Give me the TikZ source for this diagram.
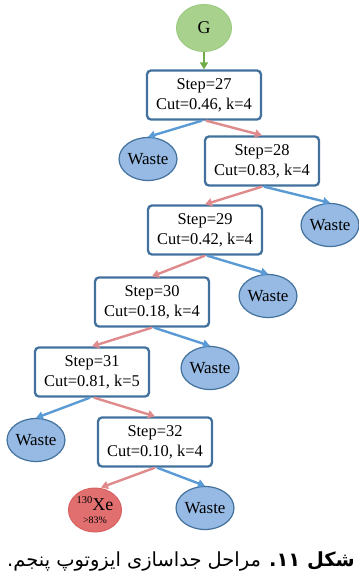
\documentclass[tikz,border=0pt]{standalone}
\usepackage{fontspec}
\setmainfont{Liberation Serif}
\newfontfamily\arabicfont[Script=Arabic]{DejaVu Sans}
\TeXXeTstate=1
\usetikzlibrary{shapes.geometric,arrows.meta}
\definecolor{boxblue}{HTML}{41719C}
\definecolor{wastefill}{HTML}{96BAE4}
\definecolor{arrblue}{HTML}{5B9BD5}
\definecolor{arrred}{HTML}{DF8A8C}
\definecolor{gfill}{HTML}{A9D18E}
\definecolor{gborder}{HTML}{9CCB80}
\definecolor{garrow}{HTML}{70AD47}
\definecolor{xefill}{HTML}{E26F6F}
\definecolor{xeborder}{HTML}{D96060}
\tikzset{
  stepbox/.style={rectangle, rounded corners=4bp, draw=boxblue, line width=2.3bp, fill=white,
    minimum width=114bp, minimum height=49bp, align=center, inner sep=1bp,
    font=\fontsize{16.5}{20}\selectfont},
  waste/.style={ellipse, draw=boxblue, line width=1.2bp, fill=wastefill,
    minimum width=51bp, minimum height=43bp, inner sep=0pt,
    font=\fontsize{17}{18}\selectfont},
  bluearr/.style={draw=arrblue, line width=2.4bp, -{Triangle[length=7bp,width=8bp]}},
  redarr/.style={draw=arrred, line width=2.4bp, -{Triangle[length=7bp,width=8bp]}},
}
\begin{document}
\begin{tikzpicture}[x=1bp,y=-1bp]
\useasboundingbox (0,0) rectangle (358,577);
\node[ellipse, draw=gborder, line width=1bp, fill=gfill, minimum width=55bp, minimum height=47bp, inner sep=0pt, font=\fontsize{18}{19}\selectfont] (g) at (204,28) {G};
\node[stepbox] (s27) at (204,95) {Step=27\\Cut=0.46,\ k=4};
\node[waste] (w27) at (148,159) {Waste};
\node[stepbox] (s28) at (262,161) {Step=28\\Cut=0.83,\ k=4};
\node[waste] (w28) at (330,225) {Waste};
\node[stepbox] (s29) at (205,230) {Step=29\\Cut=0.42,\ k=4};
\node[waste] (w29) at (268,296) {Waste};
\node[stepbox] (s30) at (152,302) {Step=30\\Cut=0.18,\ k=4};
\node[waste] (w30) at (210,368) {Waste};
\node[stepbox] (s31) at (92,372) {Step=31\\Cut=0.81,\ k=5};
\node[waste] (w31) at (36,440) {Waste};
\node[stepbox] (s32) at (155,442) {Step=32\\Cut=0.10,\ k=4};
\node[waste] (w32) at (205,508) {Waste};
\node[ellipse, draw=xeborder, line width=1bp, fill=xefill, minimum width=53bp, minimum height=44bp, inner sep=0pt, align=center] (xe) at (95,510)
  {{\fontsize{18}{18}\selectfont\raisebox{0.4em}{\fontsize{10.5}{10.5}\selectfont 130}Xe}\\[1bp]{\fontsize{10}{10}\selectfont >83\%}};
\draw[-{Triangle[length=7bp,width=8bp]}, draw=garrow, fill=garrow, line width=2.4bp] (g.south) -- (s27.north);
\draw[bluearr] ([xshift=-2bp]s27.south) -- (w27.north);
\draw[redarr] ([xshift=2bp]s27.south) -- (s28.north);
\draw[redarr] (s28.south) -- (s29.north);
\draw[bluearr] ([xshift=2bp]s28.south) -- (w28.north);
\draw[redarr] (s29.south) -- (s30.north);
\draw[bluearr] ([xshift=2bp]s29.south) -- (w29.north);
\draw[redarr] (s30.south) -- (s31.north);
\draw[bluearr] ([xshift=2bp]s30.south) -- (w30.north);
\draw[bluearr] ([xshift=-2bp]s31.south) -- (w31.north);
\draw[redarr] ([xshift=2bp]s31.south) -- (s32.north);
\draw[redarr] (s32.south) -- ([xshift=6bp]xe.north);
\draw[bluearr] ([xshift=2bp]s32.south) -- (w32.north);
\node[font=\fontsize{19.5}{22}\selectfont] (cap) at (181,561)
  {\arabicfont\beginR{\bfseries شکل ۱۱.} مراحل جداسازی ایزوتوپ پنجم.\endR};
\end{tikzpicture}
\end{document}
